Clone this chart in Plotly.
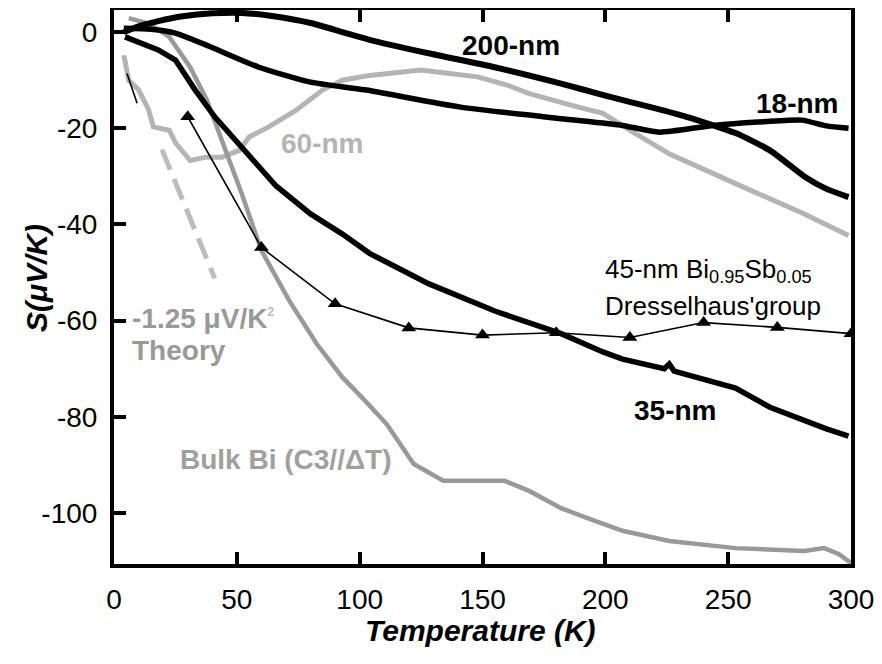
import plotly.graph_objects as go

# ---------------- data ----------------
nm200_x = [4, 10, 18, 28, 40, 52, 65, 80, 93, 104, 128, 155, 182, 200, 220, 233, 244, 253, 267, 281, 290, 299]
nm200_y = [0, 1.2, 2.3, 3.3, 3.9, 4.0, 3.3, 1.9, 0, -1.6, -4.4, -7.3, -10.7, -13.2, -15.8, -17.6, -19.4, -21, -24.6, -30, -32.6, -34.3]

nm18_x = [4, 15, 25, 39, 59, 80, 102, 141, 182, 207, 222, 244, 262, 280, 290, 299]
nm18_y = [0.8, 0.6, -0.2, -3, -7.3, -10.4, -12.0, -15.6, -18, -19.4, -20.8, -19.4, -18.7, -18.3, -19.5, -20]

nm60_x = [4, 6, 10, 14, 16, 22.5, 25, 31, 37.5, 44, 51, 55, 63, 74, 85, 93, 104, 125, 135, 148, 160, 169, 189, 199, 212, 226, 253, 281, 299]
nm60_y = [-4.8, -10, -12, -16, -19.7, -20.4, -23, -26.7, -26, -26, -24.6, -21.8, -19.7, -16.3, -12, -10, -9, -7.9, -8.5, -9.3, -11, -12.8, -15.6, -16.9, -21, -25.3, -31.5, -37.8, -42.3]

bulk_x = [6, 14, 22.5, 31, 37.7, 44, 52, 60, 67.6, 71.5, 82.5, 93, 101, 111, 122, 134, 148, 159, 169, 182, 196, 207, 226, 253, 281, 289, 295, 300]
bulk_y = [2.9, 1.8, -1, -7.3, -14, -22.5, -33.6, -45.4, -52.5, -56, -64.8, -71.8, -76, -81.5, -89.8, -93.3, -93.3, -93.3, -95.4, -99, -101.7, -103.7, -105.8, -107.3, -107.9, -107.3, -108.5, -110.4]

nm35_x = [4.5, 10, 18, 25, 33, 41, 52, 66, 80, 93, 104, 128, 155, 182, 199, 207, 224, 226, 228, 253, 267, 281, 290, 299]
nm35_y = [-1, -2, -3.7, -5.8, -12, -17.6, -24, -32, -37.8, -42, -46, -52.3, -58, -62.7, -66.5, -68, -70, -69, -70.5, -74, -78, -80.8, -82.5, -84]

bisb_x = [30, 60, 90, 120, 150, 180, 210, 240, 270, 300]
bisb_y = [-17.6, -44.8, -56.5, -61.5, -63, -62.5, -63.5, -60.4, -61.4, -62.7]

seg_x = [5.3, 9.4]
seg_y = [-8.6, -14.8]

theory_x = [19.5, 41]
theory_y = [-24.4, -51.2]

x_ticks = [0, 50, 100, 150, 200, 250, 300]
y_ticks = [0, -20, -40, -60, -80, -100]

# ---------------- figure ----------------
FONT = "Arial, Liberation Sans, sans-serif"
W, H = 882, 664
OFF = 8  # page body margin
L, R, T, B = 114 - OFF, 31 + OFF, 10 - OFF, 100 + OFF
X0, X1 = 0, 300
Y0, Y1 = -110.6, 4.6


def px2x(px):
    return X0 + (px - OFF - L) / (W - L - R) * (X1 - X0)


def py2y(py):
    return Y1 - (py - OFF - T) / (H - T - B) * (Y1 - Y0)


fig = go.Figure()

fig.add_trace(go.Scatter(x=theory_x, y=theory_y, mode="lines",
                         line=dict(color="#bdbdbd", width=5, dash="22px,10px")))
fig.add_trace(go.Scatter(x=nm60_x, y=nm60_y, mode="lines",
                         line=dict(color="#b4b4b4", width=5)))
fig.add_trace(go.Scatter(x=bulk_x, y=bulk_y, mode="lines",
                         line=dict(color="#999999", width=4.5)))
fig.add_trace(go.Scatter(x=nm18_x, y=nm18_y, mode="lines",
                         line=dict(color="black", width=5.5, shape="spline", smoothing=0.6)))
fig.add_trace(go.Scatter(x=nm200_x, y=nm200_y, mode="lines",
                         line=dict(color="black", width=6, shape="spline", smoothing=0.6)))
fig.add_trace(go.Scatter(x=nm35_x, y=nm35_y, mode="lines",
                         line=dict(color="black", width=5.5)))
fig.add_trace(go.Scatter(x=bisb_x, y=bisb_y, mode="lines+markers",
                         line=dict(color="black", width=1.6),
                         marker=dict(symbol="triangle-up", size=13, color="black")))
fig.add_trace(go.Scatter(x=seg_x, y=seg_y, mode="lines",
                         line=dict(color="black", width=1.6)))

ann = []


def add(text, px, py, size=28, color="black", bold=True, xanchor="center"):
    ann.append(dict(text=text, x=px2x(px), y=py2y(py), xref="x", yref="y",
                    showarrow=False, xanchor=xanchor, yanchor="middle",
                    font=dict(family=FONT, size=size, color=color,
                              weight="bold" if bold else "normal")))


add("200-nm", 511, 45)
add("18-nm", 797, 103)
add("60-nm", 322, 143, color="#b4b4b4")
add("35-nm", 675, 410)
add("45-nm Bi<sub>0.95</sub>Sb<sub>0.05</sub>", 603, 270, size=26, bold=False, xanchor="left")
add("Dresselhaus'group", 603, 306, size=26, bold=False, xanchor="left")
add("-1.25 \u03bcV/K<sup><span style='font-size:12px;color:#bbbbbb'>2</span></sup>", 130, 318,
    color="#999999", xanchor="left")
add("Theory", 130, 350, color="#999999", xanchor="left")
add("Bulk Bi (C3//\u0394T)", 178, 459, color="#a0a0a0", xanchor="left")

PW, PH = W - L - R, H - T - B
# axis titles as annotations (paper coords)
ann.append(dict(text="Temperature (K)", x=(480 - OFF - L) / PW, y=1 - (630 - OFF - T) / PH,
                xref="paper", yref="paper", showarrow=False, xanchor="center", yanchor="middle",
                font=dict(family=FONT, size=30, color="black", weight="bold", style="italic")))
ann.append(dict(text="S(\u03bcV/K)", x=(36 - OFF - L) / PW, y=1 - (278 - OFF - T) / PH,
                xref="paper", yref="paper", showarrow=False, xanchor="center", yanchor="middle",
                textangle=-90,
                font=dict(family=FONT, size=30, color="black", weight="bold", style="italic")))

fig.update_layout(
    width=W, height=H,
    margin=dict(l=L, r=R, t=T, b=B, autoexpand=False),
    paper_bgcolor="white", plot_bgcolor="white",
    showlegend=False,
    annotations=ann,
    font=dict(family=FONT, color="black"),
)
fig.update_xaxes(range=[X0, X1], tickvals=x_ticks, ticktext=[str(v) for v in x_ticks],
                 automargin=False,
                 showgrid=False, zeroline=False, showline=True, linecolor="black", linewidth=4,
                 mirror="ticks", ticks="inside", ticklen=12, tickwidth=4, tickcolor="black",
                 tickfont=dict(family=FONT, size=28, color="black"), ticklabelstandoff=7)
fig.update_yaxes(range=[Y0, Y1], tickvals=y_ticks, ticktext=[str(v) for v in y_ticks],
                 automargin=False,
                 showgrid=False, zeroline=False, showline=True, linecolor="black", linewidth=4,
                 mirror=True, ticks="inside", ticklen=12, tickwidth=4, tickcolor="black",
                 tickfont=dict(family=FONT, size=28, color="black"), ticklabelstandoff=7)

fig.write_html("out.html")
